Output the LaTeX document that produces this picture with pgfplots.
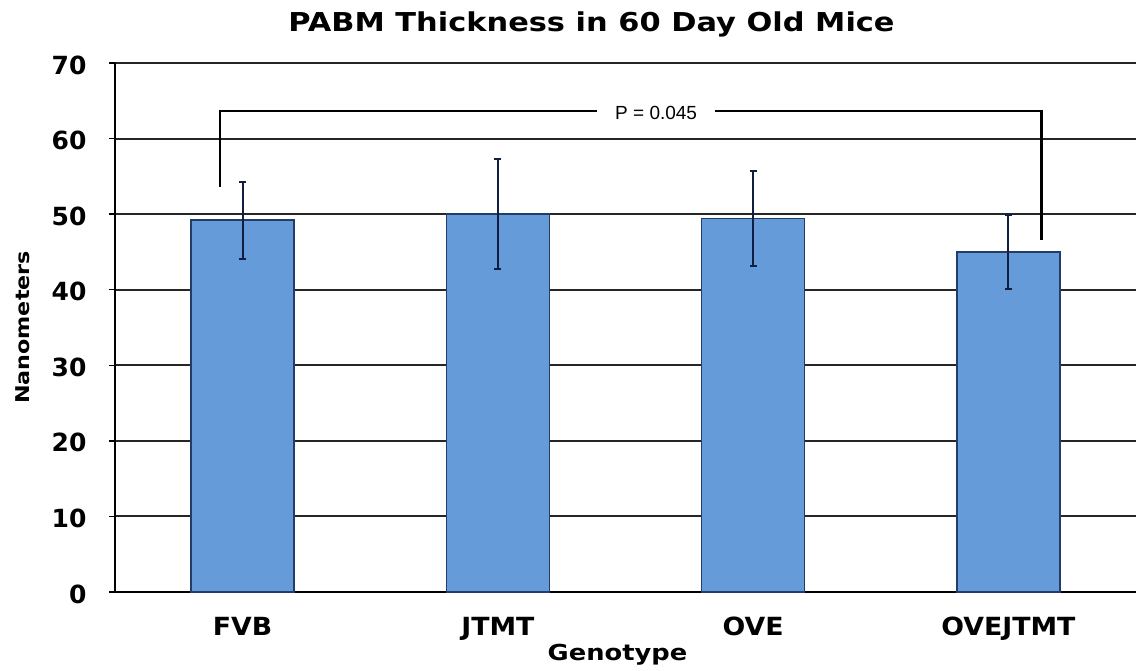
\documentclass[border=0pt]{standalone}
\usepackage{pgfplots}
\pgfplotsset{compat=1.18}
\usepackage{fontspec}
\setmainfont{DejaVu Sans}[FakeStretch=1.17]
\newfontfamily\tickfont{DejaVu Sans}[FakeStretch=1.07]
\newfontfamily\numfont{DejaVu Sans}
\newfontfamily\pfont{Liberation Sans}
\definecolor{barfill}{RGB}{100,155,216}
\definecolor{barline}{RGB}{35,60,105}
\definecolor{errc}{RGB}{15,30,65}
\begin{document}
\begin{tikzpicture}
\path[use as bounding box] (-115pt,-78pt) rectangle (1023pt,592pt);
\begin{axis}[
  at={(0pt,0pt)}, anchor=south west,
  scale only axis, width=1021pt, height=529pt,
  xmin=-0.5, xmax=3.5, ymin=0, ymax=70,
  axis x line*=bottom, axis y line*=left,
  axis line style={line width=2.2pt, black, -},
  xtick={0,1,2,3},
  xticklabels={FVB,JTMT,OVE,OVEJTMT},
  x tick style={draw=none},
  extra x ticks={0.5,1.5,2.5},
  extra x tick labels={},
  extra x tick style={major tick length=5pt, tick align=outside, tick style={draw=gray, line width=1pt}},
  ytick={0,10,...,70},
  y tick style={line width=1.5pt, black},
  tick align=outside, major tick length=6pt,
  ymajorgrids, grid style={line width=2pt, black!85},
  /pgf/number format/assume math mode=true,
  x tick label style={font=\tickfont\fontsize{25}{28}\selectfont\bfseries, anchor=base, yshift=-37pt},
  y tick label style={font=\numfont\fontsize{25}{28}\selectfont\bfseries, anchor=east, xshift=-19pt, yshift=-2pt},
  xlabel={Genotype},
  xlabel style={font=\fontsize{22}{25}\selectfont\bfseries, at={(axis description cs:0.5,0)}, anchor=base, yshift=-68pt, xshift=-8pt},
  ylabel={Nanometers},
  ylabel style={font=\fontsize{19}{22}\selectfont\bfseries, at={(axis description cs:0,0.5)}, anchor=center, yshift=92pt},
  title={PABM Thickness in 60 Day Old Mice},
  title style={font=\fontsize{26}{30}\selectfont\bfseries, at={(axis description cs:0.5,1)}, anchor=base, yshift=26pt, xshift=-34pt},
  clip=false,
]
\addplot[ybar, bar width=103pt, fill=barfill, draw=barline, line width=1.5pt,
  error bars/.cd, y dir=both, y explicit,
  error bar style={line width=2.2pt, errc},
  error mark options={rotate=90, mark size=3.5pt, line width=2pt, errc}]
  coordinates {
    (0,49.2) +- (0,5.1)
    (1,50.0) +- (0,7.3)
    (2,49.4) +- (0,6.3)
    (3,45.0) +- (0,4.9)
  };
\addplot[black, line width=2.2pt, mark=none, line join=miter] coordinates {(-0.09,53.6) (-0.09,63.6) (1.39,63.6)};
\addplot[black, line width=2.2pt, mark=none, line join=miter] coordinates {(1.85,63.6) (3.13,63.6) (3.13,46.6)};
\node[font=\pfont\fontsize{19}{21}\selectfont] at (axis cs:1.62,63.4) {P = 0.045};
\end{axis}
\end{tikzpicture}
\end{document}
